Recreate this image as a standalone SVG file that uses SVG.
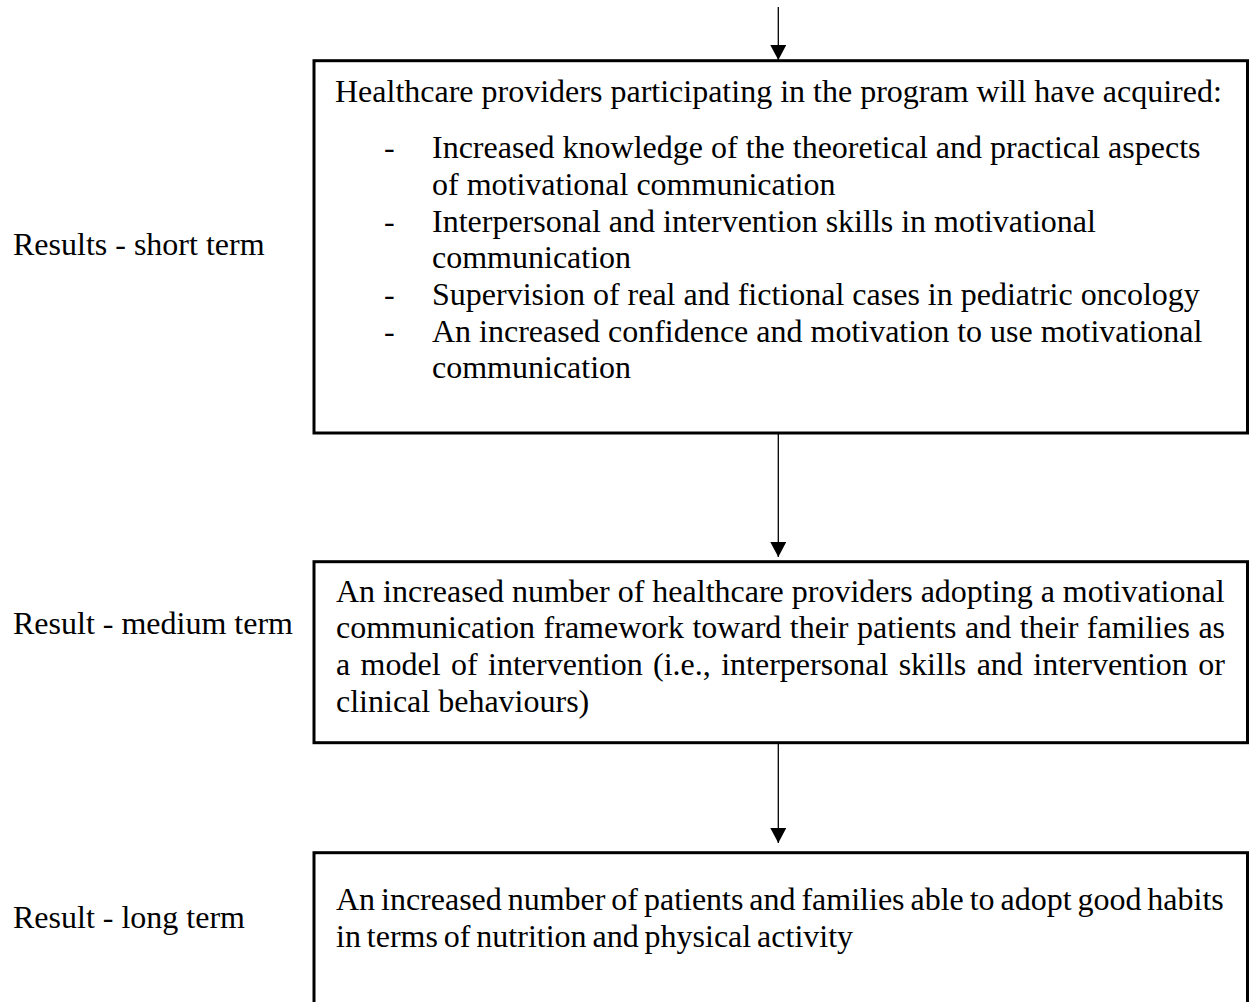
<svg xmlns="http://www.w3.org/2000/svg" width="1252" height="1002" viewBox="0 0 1252 1002">
<style>
  .t { font-family: "Liberation Serif", "Times New Roman", serif; font-size: 32px; fill: #000; }
  .box { fill: #fff; stroke: #000; stroke-width: 3; }
  .conn { stroke: #000; stroke-width: 1.3; fill: none; }
</style>
<defs>
  <marker id="ah" viewBox="0 0 15 16" refX="15" refY="8" markerWidth="15" markerHeight="16" markerUnits="userSpaceOnUse" orient="auto">
    <path d="M0,0 L15,8 L0,16 Z" fill="#000"/>
  </marker>
</defs>
<rect width="1252" height="1002" fill="#fff"/>

<g id="label-short">
  <text class="t" x="13" y="255">Results - short term</text>
</g>
<g id="label-medium">
  <text class="t" x="13" y="634">Result - medium term</text>
</g>
<g id="label-long">
  <text class="t" x="13" y="928">Result - long term</text>
</g>

<g id="node-short">
  <rect class="box" x="314" y="60.7" width="933.5" height="372.3"/>
  <text class="t" x="335" y="101.7">Healthcare providers participating in the program will have acquired:</text>
  <text class="t" x="384" y="158.3">-</text>
  <text class="t" x="432" y="158.3">Increased knowledge of the theoretical and practical aspects</text>
  <text class="t" x="432" y="195">of motivational communication</text>
  <text class="t" x="384" y="231.7">-</text>
  <text class="t" x="432" y="231.7">Interpersonal and intervention skills in motivational</text>
  <text class="t" x="432" y="268.3">communication</text>
  <text class="t" x="384" y="305">-</text>
  <text class="t" x="432" y="305">Supervision of real and fictional cases in pediatric oncology</text>
  <text class="t" x="384" y="341.7">-</text>
  <text class="t" x="432" y="341.7">An increased confidence and motivation to use motivational</text>
  <text class="t" x="432" y="378.3">communication</text>
</g>

<g id="node-medium">
  <rect class="box" x="314" y="561.7" width="933.5" height="181"/>
  <text class="t" x="336" y="601.7">An increased number of healthcare providers adopting a motivational</text>
  <text class="t" x="336" y="638.3" word-spacing="0.5">communication framework toward their patients and their families as</text>
  <text class="t" x="336" y="675" word-spacing="2.4">a model of intervention (i.e., interpersonal skills and intervention or</text>
  <text class="t" x="336" y="711.7">clinical behaviours)</text>
</g>

<g id="node-long">
  <rect class="box" x="314" y="852.7" width="933.5" height="200"/>
  <text class="t" x="336" y="910" word-spacing="-2.1">An increased number of patients and families able to adopt good habits</text>
  <text class="t" x="336" y="947" word-spacing="-2.1">in terms of nutrition and physical activity</text>
</g>

<g id="connectors">
  <line class="conn" x1="778.3" y1="7" x2="778.3" y2="60" marker-end="url(#ah)"/>
  <line class="conn" x1="778.3" y1="433" x2="778.3" y2="557" marker-end="url(#ah)"/>
  <line class="conn" x1="778.3" y1="742.7" x2="778.3" y2="843" marker-end="url(#ah)"/>
</g>
</svg>
